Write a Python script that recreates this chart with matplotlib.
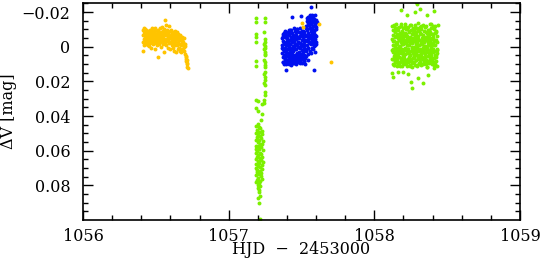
import numpy as np
import matplotlib
matplotlib.use('Agg')
import matplotlib.pyplot as plt
from matplotlib.ticker import MultipleLocator, FixedLocator, FixedFormatter

# --- data (HJD - 2453000, delta V in mag) ---

# first night, orange
orange = [
    (1056.412, -0.0065), (1056.413, -0.0030), (1056.414, -0.0098), (1056.415, 0.0022), (1056.416, -0.0045),
    (1056.418, -0.0105), (1056.419, -0.0072), (1056.421, -0.0012), (1056.422, -0.0088), (1056.424, -0.0053),
    (1056.425, -0.0102), (1056.427, -0.0025), (1056.428, -0.0078), (1056.430, -0.0040), (1056.431, -0.0095),
    (1056.433, -0.0060), (1056.435, -0.0018), (1056.436, -0.0083), (1056.438, -0.0048), (1056.440, -0.0070),
    (1056.441, -0.0030), (1056.443, -0.0092), (1056.445, -0.0056), (1056.447, -0.0010), (1056.448, -0.0075),
    (1056.450, -0.0038), (1056.452, -0.0085), (1056.454, -0.0062), (1056.455, -0.0005), (1056.457, -0.0097),
    (1056.459, -0.0044), (1056.461, -0.0070), (1056.463, -0.0020), (1056.465, -0.0088), (1056.467, -0.0055),
    (1056.469, 0.0008), (1056.471, -0.0078), (1056.473, -0.0035), (1056.475, -0.0105), (1056.477, -0.0060),
    (1056.479, -0.0015), (1056.481, -0.0082), (1056.483, -0.0045), (1056.485, -0.0068), (1056.487, -0.0028),
    (1056.489, -0.0093), (1056.491, -0.0050), (1056.493, 0.0012), (1056.495, -0.0075), (1056.497, -0.0110),
    (1056.499, -0.0040), (1056.501, -0.0064), (1056.503, -0.0022), (1056.505, -0.0090), (1056.507, -0.0052),
    (1056.509, -0.0008), (1056.511, -0.0072), (1056.513, -0.0035), (1056.515, 0.0060), (1056.517, -0.0098),
    (1056.519, -0.0058), (1056.521, -0.0018), (1056.523, -0.0080), (1056.525, -0.0042), (1056.527, -0.0108),
    (1056.529, -0.0066), (1056.531, -0.0026), (1056.533, -0.0086), (1056.535, -0.0048), (1056.537, 0.0004),
    (1056.539, -0.0070), (1056.541, -0.0115), (1056.543, -0.0032), (1056.545, -0.0060), (1056.547, -0.0092),
    (1056.549, -0.0014), (1056.551, -0.0052), (1056.553, -0.0078), (1056.555, 0.0028), (1056.557, -0.0040),
    (1056.559, -0.0100), (1056.561, -0.0065), (1056.563, -0.0020), (1056.565, -0.0154), (1056.567, -0.0085),
    (1056.569, -0.0046), (1056.571, -0.0128), (1056.573, -0.0010), (1056.575, -0.0072), (1056.577, -0.0034),
    (1056.579, -0.0095), (1056.581, -0.0056), (1056.583, 0.0006), (1056.585, -0.0080), (1056.587, -0.0040),
    (1056.589, -0.0118), (1056.591, -0.0062), (1056.593, -0.0024), (1056.595, -0.0088), (1056.597, -0.0048),
    (1056.599, 0.0015), (1056.601, -0.0070), (1056.603, -0.0030), (1056.605, -0.0095), (1056.607, -0.0055),
    (1056.609, -0.0012), (1056.611, -0.0078), (1056.613, -0.0038), (1056.615, 0.0010), (1056.617, -0.0085),
    (1056.619, -0.0050), (1056.621, -0.0020), (1056.623, -0.0068), (1056.625, 0.0022), (1056.627, -0.0042),
    (1056.629, -0.0090), (1056.631, -0.0008), (1056.633, -0.0060), (1056.635, -0.0028), (1056.637, 0.0030),
    (1056.639, -0.0075), (1056.641, -0.0045), (1056.643, -0.0010), (1056.645, -0.0082), (1056.647, -0.0052),
    (1056.649, 0.0016), (1056.651, -0.0064), (1056.653, -0.0030), (1056.655, -0.0072), (1056.657, 0.0005),
    (1056.659, -0.0044), (1056.661, -0.0018), (1056.663, -0.0060), (1056.665, 0.0026), (1056.667, -0.0036),
    (1056.669, -0.0070), (1056.671, -0.0008), (1056.673, -0.0048), (1056.675, 0.0032), (1056.677, -0.0022),
    (1056.679, -0.0058), (1056.681, 0.0012), (1056.683, -0.0040), (1056.685, -0.0015), (1056.687, 0.0020),
    (1056.689, -0.0030), (1056.691, 0.0000), (1056.693, -0.0048), (1056.695, 0.0025), (1056.697, -0.0018),
    (1056.699, -0.0005), (1056.703, 0.0040), (1056.704, 0.0062), (1056.706, 0.0052), (1056.708, 0.0068),
    (1056.710, 0.0085), (1056.712, 0.0100), (1056.713, 0.0092), (1056.714, 0.0078), (1056.716, 0.0115),
    (1056.718, 0.0124),
    # stray points of the same set on the second night
    (1057.501, -0.0138), (1057.512, -0.0115), (1057.620, -0.0129), (1057.702, 0.0090),
]

# second night, blue (two blocks + a few outliers)
blue1_hjd = [
    1057.366, 1057.367, 1057.369, 1057.370, 1057.372, 1057.373, 1057.375, 1057.376, 1057.378, 1057.379,
    1057.381, 1057.382, 1057.384, 1057.385, 1057.387, 1057.388, 1057.390, 1057.391, 1057.393, 1057.394,
    1057.396, 1057.397, 1057.399, 1057.400, 1057.402, 1057.403, 1057.405, 1057.406, 1057.408, 1057.409,
    1057.411, 1057.412, 1057.414, 1057.415, 1057.417, 1057.418, 1057.420, 1057.421, 1057.423, 1057.424,
    1057.426, 1057.427, 1057.429, 1057.430, 1057.432, 1057.433, 1057.435, 1057.436, 1057.438, 1057.439,
    1057.441, 1057.442, 1057.444, 1057.445, 1057.447, 1057.448, 1057.450, 1057.451, 1057.453, 1057.454,
    1057.456, 1057.457, 1057.459, 1057.460, 1057.462, 1057.463, 1057.465, 1057.466, 1057.468, 1057.469,
    1057.471, 1057.472, 1057.474, 1057.475, 1057.477, 1057.478, 1057.480, 1057.481, 1057.483, 1057.484,
    1057.486, 1057.487, 1057.489, 1057.490, 1057.492, 1057.493, 1057.495, 1057.496, 1057.498, 1057.499,
    1057.501, 1057.502, 1057.504, 1057.505, 1057.507, 1057.508, 1057.510, 1057.511, 1057.513, 1057.514,
    1057.516, 1057.517, 1057.519, 1057.520, 1057.522, 1057.523, 1057.525, 1057.526, 1057.528, 1057.529,
    # second pass
    1057.368, 1057.371, 1057.375, 1057.378, 1057.381, 1057.385, 1057.388, 1057.391, 1057.395, 1057.398,
    1057.401, 1057.404, 1057.408, 1057.411, 1057.414, 1057.418, 1057.421, 1057.424, 1057.428, 1057.431,
    1057.434, 1057.437, 1057.441, 1057.444, 1057.447, 1057.451, 1057.454, 1057.457, 1057.461, 1057.464,
    1057.467, 1057.470, 1057.474, 1057.477, 1057.480, 1057.484, 1057.487, 1057.490, 1057.494, 1057.497,
    1057.500, 1057.503, 1057.507, 1057.510, 1057.513, 1057.517, 1057.520, 1057.523, 1057.527, 1057.530,
]
blue1_dv = [
    -0.0052, 0.0035, -0.0010, 0.0088, -0.0072, 0.0012, 0.0060, -0.0035, 0.0098, -0.0080,
    0.0022, -0.0018, 0.0070, -0.0058, 0.0045, 0.0005, -0.0082, 0.0082, -0.0028, 0.0052,
    -0.0066, 0.0102, 0.0015, -0.0045, 0.0075, -0.0012, 0.0038, -0.0085, 0.0092, -0.0030,
    0.0060, 0.0000, -0.0070, 0.0048, -0.0098, 0.0020, 0.0085, -0.0040, 0.0066, -0.0015,
    0.0030, -0.0095, 0.0104, -0.0055, 0.0010, 0.0078, -0.0025, 0.0042, -0.0078, 0.0095,
    -0.0005, 0.0056, -0.0062, 0.0025, -0.0108, 0.0072, -0.0035, 0.0008, 0.0088, -0.0088,
    0.0045, -0.0018, 0.0062, -0.0068, 0.0100, 0.0015, -0.0042, 0.0080, -0.0100, 0.0035,
    -0.0008, 0.0068, -0.0058, 0.0090, 0.0002, -0.0030, 0.0050, -0.0082, 0.0028, 0.0075,
    -0.0048, 0.0010, -0.0105, 0.0058, -0.0020, 0.0085, -0.0065, 0.0040, -0.0002, 0.0070,
    -0.0092, 0.0018, -0.0040, 0.0095, -0.0075, 0.0030, -0.0012, 0.0060, -0.0055, 0.0005,
    -0.0085, 0.0045, -0.0028, 0.0082, -0.0062, 0.0012, 0.0098, -0.0038, 0.0052, -0.0110,
    0.0008, -0.0063, 0.0091, -0.0022, 0.0047, -0.0090, 0.0066, -0.0008, 0.0030, -0.0050,
    0.0079, -0.0034, 0.0016, -0.0077, 0.0101, -0.0016, 0.0054, -0.0095, 0.0036, 0.0089,
    -0.0045, 0.0025, -0.0068, 0.0064, -0.0003, 0.0096, -0.0052, 0.0014, -0.0087, 0.0072,
    0.0040, -0.0100, 0.0058, -0.0026, 0.0083, 0.0004, -0.0060, 0.0093, -0.0014, 0.0048,
    -0.0072, 0.0067, -0.0037, 0.0021, -0.0093, 0.0080, -0.0010, 0.0055, -0.0066, 0.0026,
]
blue2_hjd = [
    1057.533, 1057.534, 1057.536, 1057.537, 1057.539, 1057.540, 1057.542, 1057.543, 1057.545, 1057.546,
    1057.547, 1057.548, 1057.550, 1057.551, 1057.553, 1057.554, 1057.556, 1057.557, 1057.559, 1057.560,
    1057.561, 1057.562, 1057.564, 1057.565, 1057.567, 1057.568, 1057.570, 1057.571, 1057.573, 1057.574,
    1057.575, 1057.576, 1057.578, 1057.579, 1057.581, 1057.582, 1057.584, 1057.585, 1057.587, 1057.588,
    1057.589, 1057.590, 1057.592, 1057.593, 1057.595, 1057.596, 1057.598, 1057.599, 1057.601, 1057.602,
    1057.535, 1057.538, 1057.541, 1057.544, 1057.547, 1057.549, 1057.552, 1057.555, 1057.558, 1057.561,
    1057.563, 1057.566, 1057.569, 1057.572, 1057.575, 1057.577, 1057.580, 1057.583, 1057.586, 1057.589,
    1057.591, 1057.594, 1057.597, 1057.600, 1057.603,
]
blue2_dv = [
    -0.0120, 0.0020, -0.0060, -0.0150, -0.0010, -0.0095, 0.0040, -0.0135, -0.0045, -0.0170,
    -0.0080, 0.0010, -0.0125, -0.0030, -0.0160, -0.0070, -0.0110, 0.0025, -0.0145, -0.0050,
    -0.0185, -0.0090, -0.0015, -0.0130, -0.0065, 0.0035, -0.0165, -0.0105, -0.0040, -0.0150,
    -0.0085, -0.0020, -0.0175, -0.0120, -0.0055, 0.0015, -0.0140, -0.0095, -0.0030, -0.0160,
    -0.0075, -0.0010, -0.0125, -0.0185, -0.0045, 0.0030, -0.0100, -0.0155, -0.0060, -0.0015,
    -0.0100, -0.0035, -0.0165, 0.0005, -0.0128, -0.0068, -0.0150, -0.0022, -0.0110, -0.0178,
    -0.0048, -0.0138, 0.0010, -0.0082, -0.0170, -0.0118, -0.0040, -0.0152, -0.0090, -0.0005,
    -0.0135, -0.0070, -0.0112, -0.0025, -0.0145,
]
blue_out = [
    (1057.563, -0.0230), (1057.432, -0.0173), (1057.496, -0.0175), (1057.572, -0.0180),
    (1057.393, 0.0136), (1057.585, 0.0136), (1057.524, 0.0065), (1057.545, 0.0077),
]

# eclipse on the second night, green
eclipse = [
    # early column
    (1057.186, -0.0165), (1057.187, -0.0142), (1057.186, -0.0073), (1057.188, -0.0056), (1057.187, -0.0027),
    (1057.186, 0.0083), (1057.188, 0.0111), (1057.190, 0.0307), (1057.189, 0.0353),
    # late column
    (1057.247, -0.0165), (1057.248, -0.0142), (1057.246, -0.0086), (1057.249, -0.0043), (1057.247, -0.0029),
    (1057.245, -0.0018), (1057.248, -0.0006), (1057.250, 0.0005), (1057.246, 0.0016), (1057.249, 0.0028),
    (1057.247, 0.0040), (1057.251, 0.0048), (1057.246, 0.0077), (1057.249, 0.0090), (1057.248, 0.0104),
    (1057.250, 0.0115), (1057.247, 0.0144), (1057.245, 0.0158), (1057.249, 0.0173), (1057.248, 0.0192),
    (1057.246, 0.0207), (1057.250, 0.0221), (1057.247, 0.0259), (1057.249, 0.0278), (1057.246, 0.0307),
    (1057.244, 0.0324),
    # between
    (1057.203, 0.0313), (1057.231, 0.0330), (1057.201, 0.0370), (1057.229, 0.0388), (1057.222, 0.0424),
    (1057.201, 0.0445),
    # bottom of the eclipse
    (1057.190, 0.0455), (1057.205, 0.0462), (1057.218, 0.0470), (1057.196, 0.0478), (1057.226, 0.0485),
    (1057.210, 0.0490), (1057.188, 0.0498), (1057.232, 0.0502), (1057.200, 0.0510), (1057.215, 0.0515),
    (1057.193, 0.0522), (1057.222, 0.0528), (1057.207, 0.0535), (1057.187, 0.0540), (1057.235, 0.0545),
    (1057.198, 0.0552), (1057.213, 0.0558), (1057.228, 0.0563), (1057.191, 0.0570), (1057.203, 0.0575),
    (1057.220, 0.0580), (1057.188, 0.0588), (1057.210, 0.0592), (1057.233, 0.0598), (1057.196, 0.0604),
    (1057.216, 0.0610), (1057.189, 0.0615), (1057.224, 0.0620), (1057.202, 0.0627), (1057.230, 0.0633),
    (1057.192, 0.0638), (1057.212, 0.0644), (1057.186, 0.0650), (1057.221, 0.0655), (1057.199, 0.0660),
    (1057.234, 0.0666), (1057.208, 0.0672), (1057.190, 0.0678), (1057.226, 0.0683), (1057.204, 0.0690),
    (1057.217, 0.0695), (1057.188, 0.0700), (1057.231, 0.0706), (1057.197, 0.0712), (1057.212, 0.0718),
    (1057.193, 0.0724), (1057.224, 0.0730), (1057.206, 0.0736), (1057.189, 0.0742), (1057.219, 0.0748),
    (1057.200, 0.0754), (1057.228, 0.0760), (1057.194, 0.0766), (1057.214, 0.0772), (1057.191, 0.0778),
    (1057.209, 0.0785), (1057.198, 0.0795), (1057.215, 0.0805), (1057.203, 0.0815), (1057.210, 0.0828),
    (1057.206, 0.0840), (1057.212, 0.0860), (1057.201, 0.0875), (1057.208, 0.0901), (1057.212, 0.0995),
]

# third night, green
green_hjd = [
    1058.121, 1058.122, 1058.124, 1058.125, 1058.127, 1058.128, 1058.130, 1058.131, 1058.133, 1058.134,
    1058.136, 1058.137, 1058.139, 1058.140, 1058.142, 1058.143, 1058.145, 1058.146, 1058.148, 1058.149,
    1058.151, 1058.152, 1058.154, 1058.155, 1058.157, 1058.158, 1058.160, 1058.161, 1058.163, 1058.164,
    1058.166, 1058.167, 1058.169, 1058.170, 1058.172, 1058.173, 1058.175, 1058.176, 1058.178, 1058.179,
    1058.181, 1058.182, 1058.184, 1058.185, 1058.187, 1058.188, 1058.190, 1058.191, 1058.193, 1058.194,
    1058.196, 1058.197, 1058.199, 1058.200, 1058.202, 1058.203, 1058.205, 1058.206, 1058.208, 1058.209,
    1058.211, 1058.212, 1058.214, 1058.215, 1058.217, 1058.218, 1058.220, 1058.221, 1058.223, 1058.224,
    1058.226, 1058.227, 1058.229, 1058.230, 1058.232, 1058.233, 1058.235, 1058.236, 1058.238, 1058.239,
    1058.241, 1058.242, 1058.244, 1058.245, 1058.247, 1058.248, 1058.250, 1058.251, 1058.253, 1058.254,
    1058.256, 1058.257, 1058.259, 1058.260, 1058.262, 1058.263, 1058.265, 1058.266, 1058.268, 1058.269,
    1058.271, 1058.272, 1058.274, 1058.275, 1058.277, 1058.278, 1058.280, 1058.281, 1058.283, 1058.284,
    1058.286, 1058.287, 1058.289, 1058.290, 1058.292, 1058.293, 1058.295, 1058.296, 1058.298, 1058.299,
    1058.301, 1058.302, 1058.304, 1058.305, 1058.307, 1058.308, 1058.310, 1058.311, 1058.313, 1058.314,
    1058.316, 1058.317, 1058.319, 1058.320, 1058.322, 1058.323, 1058.325, 1058.326, 1058.328, 1058.329,
    1058.331, 1058.332, 1058.334, 1058.335, 1058.337, 1058.338, 1058.340, 1058.341, 1058.343, 1058.344,
    1058.346, 1058.347, 1058.349, 1058.350, 1058.352, 1058.353, 1058.355, 1058.356, 1058.358, 1058.359,
    1058.361, 1058.362, 1058.364, 1058.365, 1058.367, 1058.368, 1058.370, 1058.371, 1058.373, 1058.374,
    1058.376, 1058.377, 1058.379, 1058.380, 1058.382, 1058.383, 1058.385, 1058.386, 1058.388, 1058.389,
    1058.391, 1058.392, 1058.394, 1058.395, 1058.397, 1058.398, 1058.400, 1058.401, 1058.403, 1058.404,
    1058.406, 1058.407, 1058.409, 1058.410, 1058.412, 1058.413, 1058.415, 1058.416, 1058.418, 1058.419,
    1058.421, 1058.422, 1058.424, 1058.425, 1058.427, 1058.428, 1058.430, 1058.431, 1058.433, 1058.434,
    # second pass
    1058.122, 1058.125, 1058.128, 1058.131, 1058.134, 1058.137, 1058.140, 1058.143, 1058.146, 1058.149,
    1058.153, 1058.156, 1058.159, 1058.162, 1058.165, 1058.168, 1058.171, 1058.174, 1058.177, 1058.180,
    1058.184, 1058.187, 1058.190, 1058.193, 1058.196, 1058.199, 1058.202, 1058.205, 1058.208, 1058.211,
    1058.215, 1058.218, 1058.221, 1058.224, 1058.227, 1058.230, 1058.233, 1058.236, 1058.239, 1058.242,
    1058.246, 1058.249, 1058.252, 1058.255, 1058.258, 1058.261, 1058.264, 1058.267, 1058.270, 1058.273,
    1058.277, 1058.280, 1058.283, 1058.286, 1058.289, 1058.292, 1058.295, 1058.298, 1058.301, 1058.304,
    1058.308, 1058.311, 1058.314, 1058.317, 1058.320, 1058.323, 1058.326, 1058.329, 1058.332, 1058.335,
    1058.339, 1058.342, 1058.345, 1058.348, 1058.351, 1058.354, 1058.357, 1058.360, 1058.363, 1058.366,
    1058.370, 1058.373, 1058.376, 1058.379, 1058.382, 1058.385, 1058.388, 1058.391, 1058.394, 1058.397,
    1058.401, 1058.404, 1058.407, 1058.410, 1058.413, 1058.416, 1058.419, 1058.422, 1058.425, 1058.428,
]
green_dv = [
    -0.0042, 0.0071, -0.0118, 0.0015, 0.0098, -0.0067, 0.0033, -0.0009, -0.0127, 0.0056,
    0.0102, -0.0031, -0.0085, 0.0047, -0.0054, 0.0085, -0.0104, 0.0008, 0.0063, -0.0020,
    -0.0132, 0.0026, 0.0112, -0.0073, -0.0013, 0.0079, -0.0095, 0.0041, -0.0048, 0.0093,
    0.0002, -0.0112, 0.0058, -0.0036, 0.0107, -0.0078, 0.0019, -0.0059, 0.0088, -0.0003,
    -0.0121, 0.0068, -0.0027, 0.0037, -0.0090, 0.0114, -0.0046, 0.0011, -0.0069, 0.0052,
    0.0083, -0.0016, -0.0108, 0.0029, -0.0061, 0.0096, -0.0038, 0.0064, -0.0129, 0.0005,
    0.0044, -0.0081, 0.0100, -0.0024, -0.0100, 0.0021, 0.0075, -0.0051, -0.0007, 0.0109,
    -0.0064, 0.0035, -0.0116, 0.0090, -0.0033, 0.0012, -0.0087, 0.0060, -0.0045, 0.0081,
    -0.0011, -0.0125, 0.0049, -0.0057, 0.0105, -0.0029, 0.0024, -0.0094, 0.0072, -0.0040,
    0.0117, -0.0075, 0.0009, -0.0019, 0.0066, -0.0110, 0.0039, -0.0052, 0.0091, -0.0001,
    -0.0098, 0.0054, -0.0035, 0.0087, -0.0123, 0.0017, -0.0063, 0.0103, -0.0014, 0.0031,
    -0.0083, 0.0076, -0.0047, 0.0003, 0.0111, -0.0106, 0.0045, -0.0025, 0.0062, -0.0134,
    0.0027, -0.0060, 0.0095, -0.0008, -0.0092, 0.0070, -0.0037, 0.0014, -0.0115, 0.0050,
    0.0086, -0.0023, -0.0071, 0.0040, -0.0102, 0.0108, -0.0049, 0.0022, -0.0018, 0.0059,
    -0.0128, 0.0006, 0.0097, -0.0066, 0.0033, -0.0043, 0.0080, -0.0089, 0.0016, -0.0030,
    0.0065, -0.0113, 0.0043, -0.0006, 0.0101, -0.0056, -0.0119, 0.0028, 0.0074, -0.0039,
    0.0010, -0.0077, 0.0115, -0.0026, -0.0097, 0.0053, -0.0012, 0.0084, -0.0068, 0.0036,
    -0.0050, 0.0092, -0.0131, 0.0018, 0.0061, -0.0034, -0.0086, 0.0046, 0.0004, -0.0107,
    0.0078, -0.0015, 0.0030, -0.0072, 0.0099, -0.0044, -0.0120, 0.0067, -0.0022, 0.0012,
    -0.0058, 0.0089, -0.0100, 0.0025, -0.0032, 0.0106, -0.0079, 0.0048, -0.0010, -0.0117,
    0.0057, -0.0041, 0.0082, -0.0093, 0.0020, -0.0062, 0.0113, -0.0028, 0.0038, -0.0126,
    0.0018, -0.0096, 0.0072, -0.0035, 0.0104, -0.0122, 0.0041, -0.0005, 0.0086, -0.0060,
    -0.0028, 0.0059, -0.0109, 0.0023, 0.0095, -0.0070, 0.0007, -0.0047, 0.0112, -0.0133,
    0.0066, -0.0015, -0.0084, 0.0034, -0.0058, 0.0101, -0.0026, 0.0050, -0.0117, 0.0011,
    -0.0071, 0.0088, -0.0040, 0.0016, -0.0101, 0.0069, -0.0011, 0.0032, -0.0088, 0.0110,
    0.0047, -0.0124, 0.0083, -0.0052, 0.0000, 0.0094, -0.0079, 0.0027, -0.0036, 0.0061,
    -0.0108, 0.0039, -0.0021, 0.0076, -0.0066, 0.0013, 0.0107, -0.0044, -0.0095, 0.0054,
    0.0024, -0.0080, 0.0098, -0.0013, 0.0044, -0.0119, 0.0071, -0.0033, 0.0008, -0.0057,
    0.0090, -0.0003, -0.0113, 0.0057, -0.0043, 0.0081, -0.0086, 0.0019, 0.0116, -0.0025,
    -0.0065, 0.0036, -0.0099, 0.0073, -0.0017, 0.0052, -0.0130, 0.0010, 0.0085, -0.0048,
    0.0029, -0.0074, 0.0063, -0.0008, -0.0111, 0.0099, -0.0039, 0.0045, -0.0082, 0.0014,
]
green_out = [
    (1058.183, -0.0211), (1058.222, -0.0183), (1058.279, -0.0202), (1058.313, -0.0215),
    (1058.359, -0.0183), (1058.411, -0.0207), (1058.285, -0.0255), (1058.291, -0.0245),
    (1058.130, 0.0173), (1058.162, 0.0144), (1058.198, 0.0144), (1058.251, 0.0202),
    (1058.256, 0.0240), (1058.299, 0.0182), (1058.336, 0.0211), (1058.370, 0.0163),
    (1058.411, 0.0124), (1058.137, 0.0105), (1058.124, 0.0150), (1058.230, 0.0160),
]

yticks = [-0.02, 0.0, 0.02, 0.04, 0.06, 0.08]
ytick_labels = ['\u22120.02', '0', '0.02', '0.04', '0.06', '0.08']
xticks = [1056, 1057, 1058, 1059]

c_orange = '#FFC400'
c_blue = '#0010F0'
c_green = '#7CF000'

plt.rcParams['font.family'] = ['DejaVu Serif']

fig = plt.figure(figsize=(5.41, 2.63), dpi=100)
ax = fig.add_axes([0.1534, 0.1635, 0.8078, 0.8251])

ms = 8
ev = np.array(eclipse)
ax.scatter(ev[:, 0], ev[:, 1], s=ms, c=c_green, linewidths=0)
ax.scatter(green_hjd, green_dv, s=ms, c=c_green, linewidths=0)
go = np.array(green_out)
ax.scatter(go[:, 0], go[:, 1], s=ms, c=c_green, linewidths=0)
ax.scatter(blue1_hjd, blue1_dv, s=ms, c=c_blue, linewidths=0)
ax.scatter(blue2_hjd, blue2_dv, s=ms, c=c_blue, linewidths=0)
bo = np.array(blue_out)
ax.scatter(bo[:, 0], bo[:, 1], s=ms, c=c_blue, linewidths=0)
ov = np.array(orange)
ax.scatter(ov[:, 0], ov[:, 1], s=ms, c=c_orange, linewidths=0)

ax.set_xlim(1056, 1059)
ax.set_ylim(0.0999, -0.0252)
ax.xaxis.set_major_locator(FixedLocator(xticks))
ax.xaxis.set_minor_locator(MultipleLocator(0.2))
ax.yaxis.set_major_locator(FixedLocator(yticks))
ax.yaxis.set_major_formatter(FixedFormatter(ytick_labels))
ax.yaxis.set_minor_locator(MultipleLocator(0.005))

ax.tick_params(which='both', direction='in', top=True, right=True, width=1.0,
               labelsize=11.5)
ax.tick_params(axis='y', pad=9)
ax.tick_params(axis='x', pad=5.5)
ax.tick_params(which='major', length=7.5)
ax.tick_params(which='minor', length=3.7)
for sp in ax.spines.values():
    sp.set_linewidth(1.2)

ax.set_xlabel('HJD  \u2212  2453000', fontsize=11.5)
ax.xaxis.set_label_coords(0.5, -0.095)
ax.set_ylabel('\u0394V [mag]', fontsize=11.5)
ax.yaxis.set_label_coords(-0.15, 0.5)

fig.savefig('out.png', dpi=100)
